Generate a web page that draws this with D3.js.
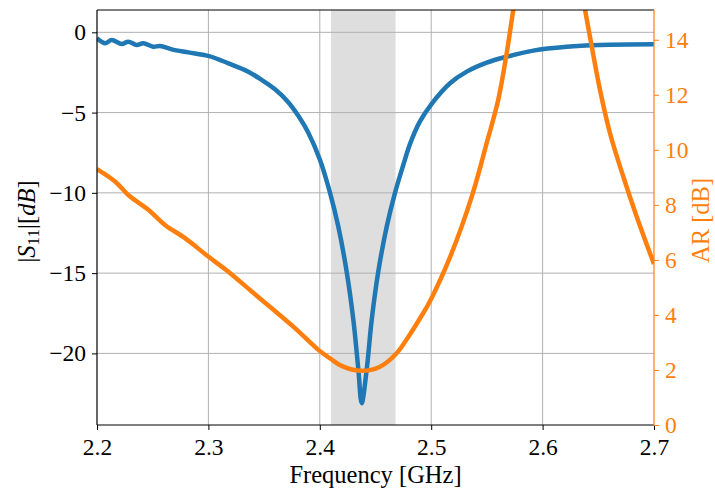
<!DOCTYPE html>
<html>
<head>
<meta charset="utf-8">
<script src="https://d3js.org/d3.v7.min.js"></script>
<style>
  body { margin: 0; background: #fff; }
</style>
</head>
<body>
<div id="chart"></div>
<script>
// |S11| curve
var s11Freq = [2.2000, 2.2072, 2.2132, 2.2222, 2.2281, 2.2356, 2.2416, 2.2505, 2.2566, 2.2671,
               2.2820, 2.2999, 2.3179, 2.3358, 2.3478, 2.3598, 2.3717, 2.3807, 2.3897, 2.4002,
               2.4092, 2.4166, 2.4241, 2.4301, 2.4346, 2.4376, 2.4421, 2.4466, 2.4525, 2.4601,
               2.4675, 2.4750, 2.4810, 2.4899, 2.5004, 2.5169, 2.5319, 2.5498, 2.5678, 2.5917,
               2.6216, 2.6515, 2.7000];
var s11Vals = [-0.37, -0.68, -0.48, -0.73, -0.58, -0.79, -0.68, -0.90, -0.85, -1.06,
               -1.25, -1.47, -1.93, -2.45, -2.97, -3.55, -4.35, -5.2, -6.25, -7.95,
               -10.0, -12.1, -14.9, -17.9, -21.0, -23.1, -21.0, -17.9, -14.9, -12.1,
               -10.0, -8.25, -6.95, -5.55, -4.45, -3.17, -2.45, -1.89, -1.52, -1.14,
               -0.90, -0.79, -0.75];

// axial ratio curve
var arFreq = [2.2000, 2.2162, 2.2281, 2.2461, 2.2610, 2.2790, 2.2999, 2.3179, 2.3389, 2.3568,
              2.3777, 2.3987, 2.4092, 2.4211, 2.4376, 2.4540, 2.4690, 2.4810, 2.4900, 2.4989,
              2.5169, 2.5364, 2.5498, 2.5602, 2.5678, 2.5737, 2.5800, 2.5900, 2.6050, 2.6200,
              2.6300, 2.6381, 2.6441, 2.6515, 2.6605, 2.6724, 2.6845, 2.7000];
var arVals = [9.30, 8.85, 8.36, 7.82, 7.27, 6.79, 6.12, 5.57, 4.85, 4.24,
              3.52, 2.73, 2.42, 2.12, 1.97, 2.12, 2.61, 3.30, 3.88, 4.50,
              6.10, 8.30, 10.24, 11.82, 13.52, 15.09, 16.7, 20.5, 23.0, 21.0,
              16.9, 15.09, 13.76, 12.18, 10.6, 9.03, 7.57, 5.85];

var band = [2.41, 2.468];
var xTicks = [2.2, 2.3, 2.4, 2.5, 2.6, 2.7];
var s11Ticks = [0, -5, -10, -15, -20];
var arTicks = [0, 2, 4, 6, 8, 10, 12, 14];

var width = 715, height = 490;
var margin = {top: 10, right: 61, bottom: 65, left: 97};
var w = width - margin.left - margin.right;
var h = height - margin.top - margin.bottom;
var blue = '#1f77b4', orange = '#ff7f0e';
var fs = 23.5, lfs = 24.5;
var serif = '"Liberation Serif", "Times New Roman", serif';

var svg = d3.select('#chart').append('svg').attr('width', width).attr('height', height);
var g = svg.append('g').attr('transform', 'translate(' + margin.left + ',' + margin.top + ')');

var x = d3.scaleLinear().domain([2.2, 2.7]).range([0, w]);
var yL = d3.scaleLinear().domain([-24.46, 1.39]).range([h, 0]);
var yR = d3.scaleLinear().domain([0, 15.08]).range([h, 0]);

g.append('clipPath').attr('id', 'clip')
  .append('rect').attr('width', w).attr('height', h);

// shaded band
g.append('rect')
  .attr('x', x(band[0])).attr('width', x(band[1]) - x(band[0]))
  .attr('y', 0).attr('height', h)
  .attr('fill', '#dedede');

// grid
g.append('g').selectAll('line').data(xTicks.slice(1, -1)).enter().append('line')
  .attr('x1', d => x(d)).attr('x2', d => x(d)).attr('y1', 0).attr('y2', h)
  .attr('stroke', '#b0b0b0').attr('stroke-width', 1);
g.append('g').selectAll('line').data(s11Ticks).enter().append('line')
  .attr('y1', d => yL(d)).attr('y2', d => yL(d)).attr('x1', 0).attr('x2', w)
  .attr('stroke', '#b0b0b0').attr('stroke-width', 1);

// curves
var s11Line = d3.line().x(d => x(d[0])).y(d => yL(d[1])).curve(d3.curveCatmullRom);
var arLine = d3.line().x(d => x(d[0])).y(d => yR(d[1])).curve(d3.curveCatmullRom);

g.append('path')
  .datum(d3.zip(s11Freq, s11Vals))
  .attr('d', s11Line)
  .attr('clip-path', 'url(#clip)')
  .attr('fill', 'none').attr('stroke', blue).attr('stroke-width', 4.5)
  .attr('stroke-linejoin', 'round');

g.append('path')
  .datum(d3.zip(arFreq, arVals))
  .attr('d', arLine)
  .attr('clip-path', 'url(#clip)')
  .attr('fill', 'none').attr('stroke', orange).attr('stroke-width', 4.5)
  .attr('stroke-linejoin', 'round');

// axes
var xAxis = g.append('g').attr('transform', 'translate(0,' + h + ')')
  .call(d3.axisBottom(x).tickValues(xTicks).tickFormat(d3.format('.1f')).tickSize(5).tickPadding(8));
var lAxis = g.append('g')
  .call(d3.axisLeft(yL).tickValues(s11Ticks).tickFormat(d3.format('d')).tickSize(5).tickPadding(6));
var rAxis = g.append('g').attr('transform', 'translate(' + w + ',0)')
  .call(d3.axisRight(yR).tickValues(arTicks).tickFormat(d3.format('d')).tickSize(5).tickPadding(6));

[xAxis, lAxis, rAxis].forEach(function(a) {
  a.attr('font-family', null).attr('font-size', null);
  a.select('.domain').remove();
  a.selectAll('text').style('font-size', fs + 'px').style('font-family', serif).attr('fill', '#000');
  a.selectAll('line').attr('stroke', '#000');
});
rAxis.selectAll('text').attr('fill', orange);
rAxis.selectAll('line').attr('stroke', orange);

// spines
g.append('line').attr('x1', 0).attr('x2', w).attr('y1', 0).attr('y2', 0).attr('stroke', '#000').attr('stroke-width', 1.2);
g.append('line').attr('x1', 0).attr('x2', w).attr('y1', h).attr('y2', h).attr('stroke', '#000').attr('stroke-width', 1.2);
g.append('line').attr('x1', 0).attr('x2', 0).attr('y1', 0).attr('y2', h).attr('stroke', '#000').attr('stroke-width', 1.2);
g.append('line').attr('x1', w).attr('x2', w).attr('y1', 0).attr('y2', h).attr('stroke', orange).attr('stroke-width', 1.2);

// labels
svg.append('text')
  .attr('x', margin.left + w / 2).attr('y', 483)
  .attr('text-anchor', 'middle')
  .style('font-size', lfs + 'px').style('font-family', serif)
  .text('Frequency [GHz]');

var yl = svg.append('text')
  .attr('transform', 'translate(35,' + (margin.top + h / 2 + 4) + ') rotate(-90)')
  .attr('text-anchor', 'middle')
  .style('font-size', lfs + 'px').style('font-family', serif);
yl.append('tspan').text('|');
yl.append('tspan').attr('font-style', 'italic').text('S');
yl.append('tspan').style('font-size', (lfs * 0.7) + 'px').attr('dy', 4).text('11');
yl.append('tspan').attr('dy', -4).text('|[');
yl.append('tspan').attr('font-style', 'italic').text('dB');
yl.append('tspan').text(']');

svg.append('text')
  .attr('transform', 'translate(709,' + (margin.top + h / 2 + 3) + ') rotate(-90)')
  .attr('text-anchor', 'middle').attr('fill', orange)
  .style('font-size', lfs + 'px').style('font-family', serif)
  .text('AR [dB]');
</script>
</body>
</html>
